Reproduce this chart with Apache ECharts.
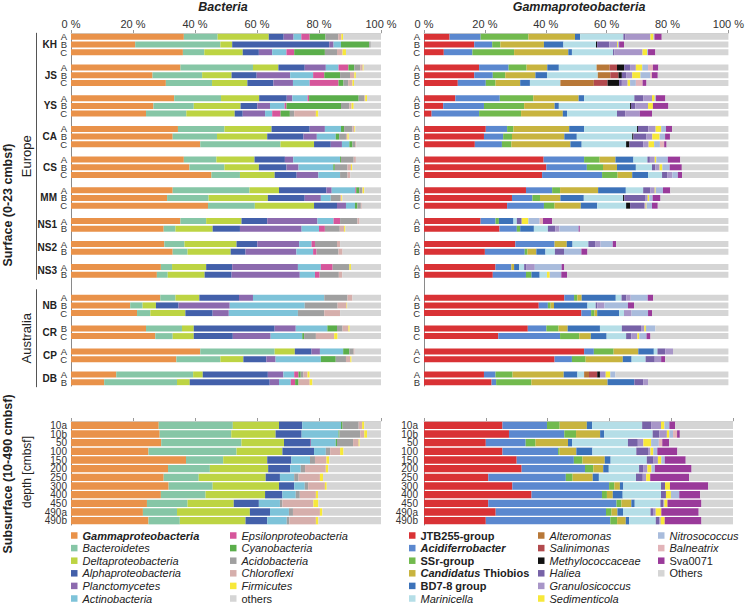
<!DOCTYPE html>
<html>
<head>
<meta charset="utf-8">
<title>Bacteria / Gammaproteobacteria</title>
<script src="https://cdn.jsdelivr.net/npm/echarts@6/dist/echarts.min.js"></script>
<style>
html, body { margin: 0; padding: 0; background: #fff; }
#chart { width: 747px; height: 613px; }
</style>
</head>
<body>
<div id="chart"></div>
<script>
var FONT = '"Liberation Sans", Arial, sans-serif';

// sample layout
var sites = ['KH', 'JS', 'YS', 'CA', 'CS', 'MM', 'NS1', 'NS2', 'NS3', 'NB', 'CR', 'CP', 'DB'];
var siteSamples = [['A','B','C'], ['A','B','C'], ['A','B','C'], ['A','B','C'], ['A','B','C'], ['A','B','C'],
                   ['A','B'], ['A','B'], ['A','B'], ['A','B','C'], ['B','C'], ['A','C'], ['A','B']];
var gapsAfter = [1, 1, 1, 1, 1, 1, 1, 1, 2, 1, 1, 1];
var depths = ['10a', '10b', '50', '100', '150', '200', '250', '300', '400', '450', '490a', '490b'];
var europeSites = ['KH', 'JS', 'YS', 'CA', 'CS', 'MM', 'NS1', 'NS2', 'NS3'];
var australiaSites = ['NB', 'CR', 'CP', 'DB'];

// Bacteria, % (33 surface samples, then 12 depths)
var gammaproteobacteria = [
  36.4, 20.7, 36.1,  35.3, 26.3, 30.6,  33.3, 26.6, 24.2,  34.5, 32.8, 41.7,
  36.4, 38.2, 45.3,  32.8, 31.0, 44.2,  35.3, 29.9,  30.1, 32.8,  29.0, 27.7,
  28.8, 19.1, 21.3,  24.2, 27.2,  41.7, 34.0,  14.6, 10.7,
  28.3, 28.6, 29.1, 25.0, 37.1, 31.3, 29.9, 31.5, 29.0, 24.5, 23.2, 25.0];
var bacteroidetes = [
  10.9, 27.5, 6.9,  23.4, 16.0, 14.9,  15.1, 13.0, 13.0,  15.0, 14.3, 25.9,
  10.5, 11.3, 9.2,  24.8, 13.4, 15.1,  8.3, 3.8,  6.5, 4.8,  3.6, 3.5,
  4.9, 4.0, 4.3,  11.6, 5.6,  24.0, 14.2,  24.8, 23.5,
  23.9, 23.1, 25.9, 28.4, 12.0, 13.5, 11.3, 14.2, 14.4, 13.1, 11.0, 10.1];
var deltaproteobacteria = [
  16.5, 3.8, 12.4,  8.2, 9.5, 11.4,  12.3, 15.1, 15.6,  15.2, 16.2, 10.8,
  12.3, 11.1, 11.2,  9.5, 19.1, 19.1,  11.4, 12.0,  16.8, 13.9,  11.0, 11.9,
  7.7, 4.3, 11.3,  3.8, 6.8,  6.5, 7.4,  3.1, 4.1,
  14.9, 14.3, 13.7, 14.8, 14.2, 18.8, 21.6, 21.4, 19.2, 14.9, 23.5, 21.2];
var alphaproteobacteria = [
  4.8, 31.3, 5.2,  8.5, 8.1, 8.4,  8.9, 5.4, 2.6,  12.3, 11.7, 5.4,
  9.8, 8.9, 7.1,  15.3, 11.9, 7.4,  8.3, 8.8,  6.7, 4.8,  8.4, 8.7,
  12.8, 7.3, 8.8,  26.1, 12.6,  5.4, 7.4,  21.0, 25.8,
  7.5, 8.4, 8.4, 10.2, 7.8, 7.1, 4.6, 4.9, 5.6, 8.1, 6.5, 7.0];
var planctomycetes = [
  3.2, 1.4, 4.3,  6.8, 10.8, 6.3,  1.8, 4.1, 7.2,  4.9, 4.3, 3.6,
  2.7, 3.9, 7.0,  1.7, 5.2, 2.9,  16.2, 19.9,  13.5, 16.4,  21.2, 22.0,
  4.5, 16.5, 5.2,  6.8, 12.2,  2.7, 3.0,  5.0, 3.0,
  0, 0, 0.3, 0, 0, 0, 0, 0, 0, 0, 0, 0];
var actinobacteria = [
  2.5, 2.4, 4.6,  4.1, 7.4, 5.4,  4.9, 4.7, 2.3,  5.2, 6.1, 2.4,
  15.1, 11.2, 7.0,  7.6, 3.2, 2.9,  5.2, 5.6,  4.0, 5.4,  7.4, 4.9,
  23.0, 24.2, 22.3,  10.2, 10.2,  7.5, 14.6,  3.5, 3.8,
  12.5, 11.9, 8.0, 3.8, 6.0, 3.4, 4.6, 3.4, 4.3, 6.8, 6.1, 6.3];
var epsilonproteobacteria = [
  2.7, 0, 2.5,  3.2, 3.6, 9.3,  0.5, 0.6, 2.7,  0, 0, 0,
  0, 0, 0,  0.3, 0, 0,  2.1, 1.9,  1.1, 1.1,  3.8, 1.5,
  0, 0, 0,  0, 0,  0, 0,  1.4, 1.4,
  0, 0, 0, 0, 0, 0, 0, 0, 0, 0, 0, 0];
var cyanobacteria = [
  5.1, 9.1, 9.9,  1.9, 5.1, 1.6,  16.0, 17.6, 3.0,  1.0, 1.1, 1.0,
  0.3, 0.5, 0,  1.0, 0, 0.8,  0, 0,  0, 0,  0, 0,
  0, 0, 0,  3.1, 0.6,  2.0, 4.8,  0.7, 1.1,
  0.5, 0.3, 0.4, 0, 0, 0, 0, 0, 0, 0, 0, 0];
var acidobacteria = [
  4.1, 0.5, 3.9,  1.9, 3.2, 1.5,  1.8, 2.7, 1.4,  2.7, 2.2, 0.9,
  4.1, 4.1, 2.4,  0.9, 3.0, 1.1,  5.6, 4.8,  7.1, 7.1,  5.4, 6.2,
  7.5, 10.6, 8.5,  1.8, 3.8,  1.4, 3.3,  0.9, 0,
  5.2, 6.7, 5.2, 1.4, 1.6, 1.4, 1.4, 1.1, 1.3, 0.8, 1.3, 0.8];
var chloroflexi = [
  1.0, 0, 1.8,  0.8, 1.4, 1.4,  0.3, 0.7, 7.0,  0.6, 0.5, 0.3,
  0.7, 1.1, 0.9,  0.2, 0.4, 0.3,  0.7, 1.4,  1.0, 1.3,  0, 1.1,
  1.6, 2.9, 5.1,  1.9, 5.9,  0.3, 1.4,  1.3, 3.6,
  1.1, 1.3, 1.8, 3.2, 3.7, 6.7, 6.9, 5.4, 5.2, 10.0, 8.7, 8.6];
var firmicutes = [
  0.6, 0, 1.1,  0.3, 0.5, 0.5,  0.6, 0.7, 0.8,  0.3, 0.4, 0,
  0, 0.4, 0,  0.5, 0.3, 0,  0, 0.4,  0, 0,  0.5, 0,
  0, 0.2, 0,  0.4, 1.1,  0, 0.4,  0.7, 0.9,
  0.7, 0.9, 0.3, 1.1, 0.9, 0.8, 1.0, 0.6, 0.7, 1.6, 0.8, 0.8];
var bacOthers = [
  12.2, 3.3, 11.3,  5.6, 8.1, 8.7,  4.5, 8.8, 20.2,  8.3, 10.4, 8.0,
  8.1, 9.3, 9.9,  5.4, 12.5, 6.2,  6.9, 11.5,  13.2, 12.4,  9.7, 12.5,
  9.2, 10.9, 13.2,  10.1, 14.0,  8.5, 9.5,  23.0, 22.1,
  5.4, 4.5, 6.9, 12.1, 16.7, 17.0, 18.7, 17.5, 20.3, 20.2, 18.9, 20.2];

// Gammaproteobacteria, %
var jtb255 = [
  8.4, 16.5, 6.5,  18.1, 16.5, 11.1,  10.3, 6.3, 2.5,  20.3, 19.7, 16.7,
  39.3, 40.2, 38.8,  33.5, 28.9, 27.3,  18.6, 24.8,  30.0, 20.0,  23.5, 22.6,
  46.1, 37.7, 51.7,  34.1, 24.4,  52.6, 42.9,  19.7, 22.2,
  25.4, 27.5, 20.0, 25.4, 30.0, 31.6, 20.8, 28.6, 34.8, 20.8, 23.2, 20.0];
var acidiferrobacter = [
  10.2, 5.9, 9.4,  9.7, 6.1, 9.2,  14.6, 13.4, 15.6,  7.0, 6.3, 8.9,
  13.3, 13.3, 19.7,  8.6, 6.7, 12.1,  4.9, 5.7,  12.9, 13.1,  5.2, 10.9,
  3.2, 3.0, 3.2,  6.1, 20.3,  3.2, 5.7,  3.8, 1.5,
  14.4, 17.9, 12.9, 18.0, 18.5, 20.5, 25.1, 31.3, 22.8, 41.5, 35.7, 40.3];
var ssrGroup = [
  15.7, 2.7, 13.7,  5.9, 4.1, 3.2,  11.0, 13.2, 13.8,  2.1, 2.9, 3.1,
  5.1, 5.3, 5.1,  2.6, 2.5, 3.5,  1.1, 1.1,  0, 0.9,  0, 1.8,
  1.1, 0.9, 1.1,  4.0, 6.3,  6.5, 4.5,  5.6, 11.6,
  4.1, 3.8, 3.2, 0.5, 2.8, 2.7, 2.2, 1.7, 1.6, 1.6, 1.8, 2.2];
var thiobios = [
  15.3, 14.3, 17.8,  6.8, 9.9, 8.1,  14.9, 10.0, 13.7,  18.3, 17.2, 19.4,
  5.2, 4.6, 4.8,  12.5, 6.7, 8.6,  0, 0,  4.0, 2.9,  0.9, 0,
  1.4, 1.1, 0.9,  3.0, 3.8,  8.1, 12.2,  16.8, 25.0,
  8.8, 7.8, 10.5, 5.4, 7.2, 3.2, 6.5, 1.8, 1.9, 3.2, 1.9, 2.8];
var bd78 = [
  1.7, 6.4, 1.2,  3.8, 3.8, 3.2,  1.8, 1.4, 1.4,  4.9, 4.1, 3.7,
  5.9, 6.2, 5.2,  9.1, 7.7, 5.4,  4.8, 4.5,  1.9, 3.0,  1.7, 2.7,
  11.2, 11.0, 7.2,  10.6, 5.2,  5.1, 2.9,  4.5, 8.8,
  1.7, 1.3, 1.3, 5.2, 1.9, 1.8, 2.0, 1.1, 3.2, 1.1, 1.8, 1.1];
var marinicella = [
  14.2, 10.7, 13.5,  12.4, 16.7, 10.0,  16.5, 23.4, 16.4,  17.4, 18.2, 14.6,
  4.6, 5.3, 4.6,  5.7, 12.9, 9.5,  1.1, 4.6,  5.2, 3.1,  1.6, 2.4,
  1.9, 2.7, 1.6,  7.2, 6.4,  1.2, 4.6,  2.2, 0,
  16.2, 15.7, 18.1, 14.2, 11.7, 9.8, 12.0, 12.2, 12.4, 8.3, 8.9, 8.6];
var alteromonas = [
  0, 0, 0,  4.3, 4.1, 11.0,  0, 0, 0,  0, 0, 0,
  0, 0, 0,  0, 0, 0,  0, 0,  0, 0,  0, 0,
  0, 0, 0,  0, 0,  0, 0,  1.6, 0,
  0, 0, 0, 0, 0, 0, 0, 0, 0, 0, 0, 0];
var salinimonas = [
  0, 0, 0,  2.4, 2.7, 4.5,  0, 0, 0,  0, 0, 0,
  0, 0, 0,  0, 0, 0,  0, 0,  0, 0,  0, 0,
  0, 0, 0,  0, 0,  0, 0,  2.7, 0,
  0, 0, 0, 0, 0, 0, 0, 0, 0, 0, 0, 0];
var methylococcaceae = [
  0, 0.4, 0,  2.4, 1.1, 3.8,  0, 0.3, 0,  0.3, 0.4, 1.1,
  0, 0, 0,  0, 0.4, 1.3,  0, 0,  0, 0,  0, 0,
  0, 0, 0,  0, 0,  0, 0,  0.9, 0,
  0, 0, 0, 0, 0, 0, 0, 0, 0, 0, 0, 0];
var haliea = [
  0.7, 4.0, 0.4,  1.9, 1.4, 0.9,  2.9, 1.4, 2.7,  3.4, 4.3, 4.5,
  0.8, 1.1, 1.8,  2.4, 6.8, 4.6,  1.6, 2.4,  2.2, 3.0,  0.8, 0,
  1.6, 0.5, 0,  6.3, 1.7,  2.6, 3.0,  0, 2.9,
  2.9, 2.2, 3.2, 3.8, 2.2, 1.3, 2.2, 1.3, 1.6, 0.9, 0.8, 1.1];
var granulosicoccus = [
  8.2, 2.5, 9.3,  1.9, 2.0, 1.9,  2.9, 4.2, 4.8,  2.4, 1.9, 1.8,
  1.6, 1.4, 1.6,  1.4, 0.9, 0.5,  0, 1.4,  1.8, 0,  2.7, 0,
  1.4, 2.4, 2.5,  1.1, 2.0,  2.5, 2.1,  1.9, 1.6,
  3.2, 2.4, 1.8, 0.8, 1.4, 1.4, 1.1, 0, 0, 0.4, 0.9, 0.5];
var sedimenticola = [
  1.0, 0.3, 1.5,  2.1, 2.7, 0.8,  0.9, 1.6, 0,  1.8, 2.4, 1.8,
  0.5, 0.9, 0,  0.3, 0.5, 0.3,  2.2, 0,  0, 0,  0, 0.9,
  0, 0, 0,  0.5, 0.6,  0, 0,  1.5, 0,
  1.1, 0.8, 2.5, 0.9, 1.1, 1.3, 1.3, 1.6, 1.6, 1.0, 1.8, 1.3];
var nitrosococcus = [
  0.3, 0.4, 0.3,  1.9, 3.3, 1.9,  0.4, 0, 0,  1.6, 1.8, 1.9,
  3.8, 2.4, 1.8,  2.4, 1.1, 1.8,  3.7, 6.3,  4.0, 5.7,  8.8, 3.8,
  5.6, 7.7, 5.4,  3.1, 2.4,  0, 0,  1.7, 0,
  1.6, 1.2, 2.5, 1.3, 1.1, 1.1, 0, 0, 2.7, 0, 0, 0];
var balneatrix = [
  0, 0, 0,  1.6, 0.5, 2.2,  0, 0, 0,  0, 0, 1.4,
  0, 0, 0,  0, 0, 0,  1.1, 0,  0, 0,  0, 0,
  0, 0, 0,  0, 0,  0, 0,  0, 0,
  0, 1.3, 1.1, 0, 0, 0, 0, 0, 0, 0, 0, 0];
var sva0071 = [
  2.4, 1.6, 2.4,  1.8, 1.9, 1.3,  3.1, 5.1, 4.0,  2.0, 1.6, 0.8,
  4.1, 4.0, 1.4,  2.4, 2.6, 1.9,  3.0, 0.4,  1.1, 2.0,  0.9, 1.9,
  1.8, 2.0, 1.3,  0, 1.3,  0, 1.3,  0, 0,
  1.9, 0.9, 2.2, 6.5, 6.8, 11.9, 12.6, 12.4, 6.8, 11.0, 12.1, 11.9];
var gamOthers = [
  21.9, 34.3, 24.0,  23.0, 23.2, 26.9,  20.7, 19.7, 25.1,  18.5, 19.2, 20.3,
  15.8, 15.3, 15.2,  19.1, 22.3, 23.2,  57.9, 48.8,  36.9, 46.3,  53.9, 53.0,
  24.7, 31.0, 25.1,  24.0, 25.6,  18.2, 20.8,  37.1, 26.4,
  18.7, 17.2, 20.7, 18.0, 15.3, 13.4, 14.2, 8.0, 10.6, 10.2, 11.1, 10.2];

var bacNames = ['Gammaproteobacteria', 'Bacteroidetes', 'Deltaproteobacteria', 'Alphaproteobacteria',
                'Planctomycetes', 'Actinobacteria', 'Epsilonproteobacteria', 'Cyanobacteria',
                'Acidobacteria', 'Chloroflexi', 'Firmicutes', 'others'];
var bacValues = [gammaproteobacteria, bacteroidetes, deltaproteobacteria, alphaproteobacteria,
                 planctomycetes, actinobacteria, epsilonproteobacteria, cyanobacteria,
                 acidobacteria, chloroflexi, firmicutes, bacOthers];
var bacColors = ['#E9924A', '#86C6A6', '#BDD443', '#4360AA', '#8C6AAE', '#7EC3D9',
                 '#D6569B', '#5BAE4B', '#A0A0A0', '#D6AFAC', '#F7E83A', '#D5D5D5'];

var gamNames = ['JTB255-group', 'Acidiferrobacter', 'SSr-group', 'Candidatus Thiobios', 'BD7-8 group',
                'Marinicella', 'Alteromonas', 'Salinimonas', 'Methylococcaceae', 'Haliea',
                'Granulosicoccus', 'Sedimenticola', 'Nitrosococcus', 'Balneatrix', 'Sva0071', 'Others'];
var gamValues = [jtb255, acidiferrobacter, ssrGroup, thiobios, bd78, marinicella, alteromonas,
                 salinimonas, methylococcaceae, haliea, granulosicoccus, sedimenticola,
                 nitrosococcus, balneatrix, sva0071, gamOthers];
var gamColors = ['#D93235', '#5B88CF', '#72BA4E', '#C8B43F', '#3C72B9', '#B5DEE7', '#B87838',
                 '#B24A4E', '#111111', '#7762A7', '#A896C8', '#F7E83A', '#A9BCDC', '#E2B4B9',
                 '#9A3A9A', '#D5D5D5'];

// how legend names are typeset
var legendText = {
  'Gammaproteobacteria': '{bi|Gammaproteobacteria}',
  'others': '{n|others}',
  'JTB255-group': '{b|JTB255-group}',
  'Acidiferrobacter': '{bi|Acidiferrobacter}',
  'SSr-group': '{b|SSr-group}',
  'Candidatus Thiobios': '{bi|Candidatus} {b|Thiobios}',
  'BD7-8 group': '{b|BD7-8 group}',
  'Sva0071': '{n|Sva0071}',
  'Others': '{n|Others}'
};

// category slots: surface rows with blank slots between sites
var slots = [], slotOfRow = [], firstSlot = {}, lastSlot = {};
sites.forEach(function (s, i) {
  firstSlot[s] = slots.length;
  siteSamples[i].forEach(function (smp) {
    slotOfRow.push(slots.length);
    slots.push(s + ' ' + smp);
  });
  lastSlot[s] = slots.length - 1;
  for (var g = 0; g < (gapsAfter[i] || 0); g++) slots.push('gap' + i + '-' + g);
});
var nSurf = slotOfRow.length;

function surfData(vals) {
  var d = slots.map(function () { return '-'; });
  for (var r = 0; r < nSurf; r++) d[slotOfRow[r]] = vals[r];
  return d;
}
function depthData(vals) { return vals.slice(nSurf); }

var chart = echarts.init(document.getElementById('chart'), null, { renderer: 'svg' });

var grids = [
  { left: 71, top: 33, width: 310, height: 353 },
  { left: 71, top: 421, width: 310, height: 104 },
  { left: 424, top: 33, width: 309, height: 353 },
  { left: 424, top: 421, width: 309, height: 104 }
];

function xAx(i, labels) {
  return {
    type: 'value', gridIndex: i, position: 'top', min: 0, max: 100, interval: 20,
    axisLine: { show: true, lineStyle: { color: '#cfcfcf', width: 1 } },
    axisTick: { show: true, length: 3, lineStyle: { color: '#9a9a9a' } },
    axisLabel: { show: labels, formatter: '{value} %', fontFamily: FONT, fontSize: 11, color: '#333', margin: 4 },
    splitLine: { show: false }
  };
}
function yAx(i, data, depth, margin) {
  return {
    type: 'category', gridIndex: i, inverse: true, data: data,
    axisLine: { show: true, lineStyle: { color: '#8a8a8a', width: 1 } },
    axisTick: { show: false },
    axisLabel: {
      interval: 0, fontFamily: FONT, fontSize: depth ? 10 : 9.5, lineHeight: depth ? 8.5 : 7.5,
      color: '#333', margin: margin,
      formatter: function (v) { return depth ? v : (v.indexOf('gap') === 0 ? '' : v.split(' ')[1]); }
    }
  };
}

var series = [];
bacNames.forEach(function (name, k) {
  series.push({ name: name, type: 'bar', stack: 'bs', xAxisIndex: 0, yAxisIndex: 0, barWidth: 6,
    silent: true, itemStyle: { color: bacColors[k] }, data: surfData(bacValues[k]) });
  series.push({ name: name, type: 'bar', stack: 'bd', xAxisIndex: 1, yAxisIndex: 1, barWidth: 7.4,
    silent: true, itemStyle: { color: bacColors[k] }, data: depthData(bacValues[k]) });
});
gamNames.forEach(function (name, k) {
  series.push({ name: name, type: 'bar', stack: 'gs', xAxisIndex: 2, yAxisIndex: 2, barWidth: 6,
    silent: true, itemStyle: { color: gamColors[k] }, data: surfData(gamValues[k]) });
  series.push({ name: name, type: 'bar', stack: 'gd', xAxisIndex: 3, yAxisIndex: 3, barWidth: 7.4,
    silent: true, itemStyle: { color: gamColors[k] }, data: depthData(gamValues[k]) });
});

var rich = {
  bi: { fontFamily: FONT, fontSize: 11, fontStyle: 'italic', fontWeight: 'bold', color: '#222', lineHeight: 12 },
  b: { fontFamily: FONT, fontSize: 11, fontWeight: 'bold', color: '#222', lineHeight: 12 },
  i: { fontFamily: FONT, fontSize: 11, fontStyle: 'italic', color: '#222', lineHeight: 12 },
  n: { fontFamily: FONT, fontSize: 11, color: '#222', lineHeight: 12 }
};
function legendCol(names, left) {
  return {
    data: names, left: left, top: 530, orient: 'vertical', padding: 0,
    icon: 'rect', itemWidth: 6.5, itemHeight: 6.5, itemGap: 1.6, selectedMode: false,
    formatter: function (n) { return legendText[n] || '{i|' + n + '}'; },
    textStyle: { fontFamily: FONT, fontSize: 11, color: '#222', rich: rich }
  };
}

chart.setOption({
  animation: false,
  textStyle: { fontFamily: FONT },
  grid: grids,
  xAxis: [xAx(0, true), xAx(1, false), xAx(2, true), xAx(3, false)],
  yAxis: [yAx(0, slots, false, 4), yAx(1, depths, true, 4), yAx(2, slots, false, 4), yAx(3, depths, true, 6)],
  legend: [
    legendCol(bacNames.slice(0, 6), 71),
    legendCol(bacNames.slice(6), 230),
    legendCol(gamNames.slice(0, 6), 409),
    legendCol(gamNames.slice(6, 12), 538),
    legendCol(gamNames.slice(12), 658)
  ],
  series: series
});

// labels placed from the axis scale
function py(slot) { return chart.convertToPixel({ yAxisIndex: 0 }, slot); }
function txt(x, y, s, font, align, rot) {
  return { type: 'text', x: x, y: y, rotation: rot || 0, silent: true,
    style: { text: s, font: font, fill: '#222', textAlign: align || 'center', textVerticalAlign: 'middle' } };
}
function vline(x, y1, y2) {
  return { type: 'line', silent: true, shape: { x1: x, y1: y1, x2: x, y2: y2 }, style: { stroke: '#555', lineWidth: 1 } };
}

var gfx = [];
sites.forEach(function (s) {
  var y = (py(firstSlot[s]) + py(lastSlot[s])) / 2;
  gfx.push(txt(57, y, s, 'bold 10px ' + FONT, 'right'));
});
var eTop = py(firstSlot[europeSites[0]]) - 4;
var eBot = py(lastSlot[europeSites[europeSites.length - 1]]) + 5;
var aTop = py(firstSlot[australiaSites[0]]) - 8.5;
var aBot = py(lastSlot[australiaSites[australiaSites.length - 1]]) + 5;
gfx.push(vline(36.5, eTop, eBot));
gfx.push(vline(36.5, aTop, aBot));
gfx.push(txt(26, (eTop + eBot) / 2, 'Europe', '13px ' + FONT, 'center', Math.PI / 2));
gfx.push(txt(26, (aTop + aBot) / 2, 'Australia', '13px ' + FONT, 'center', Math.PI / 2));
gfx.push(txt(8, 205, 'Surface (0-23 cmbsf)', 'bold 12.5px ' + FONT, 'center', Math.PI / 2));
gfx.push(txt(8, 474, 'Subsurface (10-490 cmbsf)', 'bold 12.5px ' + FONT, 'center', Math.PI / 2));
gfx.push(txt(27, 472, 'depth [cmbsf]', '12px ' + FONT, 'center', Math.PI / 2));
gfx.push(txt(223, 7, 'Bacteria', 'italic bold 12.5px ' + FONT));
gfx.push(txt(579, 7, 'Gammaproteobacteria', 'italic bold 12.5px ' + FONT));

chart.setOption({ graphic: gfx });
</script>
</body>
</html>
